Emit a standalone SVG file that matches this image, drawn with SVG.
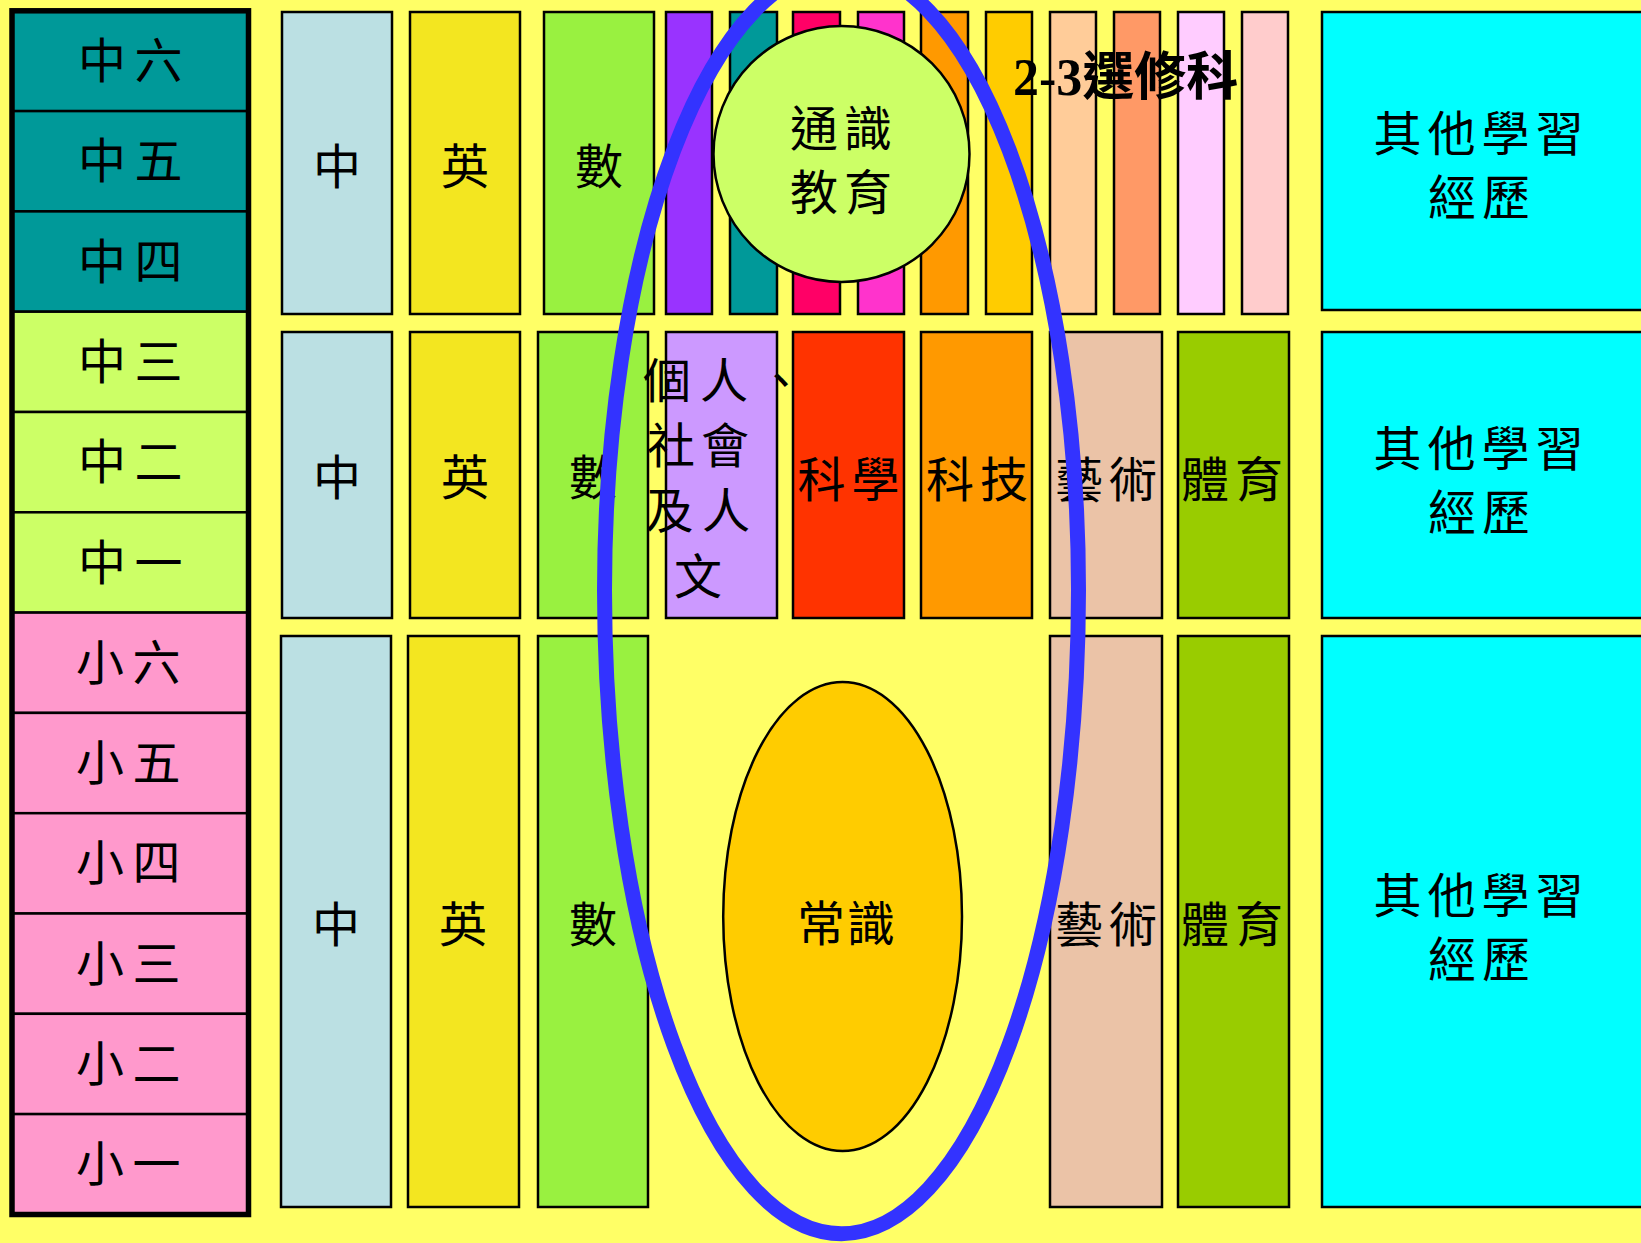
<svg xmlns="http://www.w3.org/2000/svg" width="1641" height="1243" viewBox="0 0 1641 1243">
<style>
.b{stroke:#000;stroke-width:2.5}
.t{font-family:"Noto Sans CJK TC","Noto Sans CJK SC",sans-serif;font-size:48px;fill:#000}
.m{text-anchor:middle}
.s6{letter-spacing:6px}
.s8{letter-spacing:8.5px}
.row{stroke:#000;stroke-width:2.5}
</style>
<rect x="0" y="0" width="1641" height="1243" fill="#FFFF66"/>
<g id="grades">
<rect class="row" x="12" y="10.8" width="236.5" height="100.3" fill="#009999"/>
<rect class="row" x="12" y="111.1" width="236.5" height="100.3" fill="#009999"/>
<rect class="row" x="12" y="211.4" width="236.5" height="100.3" fill="#009999"/>
<rect class="row" x="12" y="311.7" width="236.5" height="100.3" fill="#CCFF66"/>
<rect class="row" x="12" y="412" width="236.5" height="100.3" fill="#CCFF66"/>
<rect class="row" x="12" y="512.3" width="236.5" height="100.3" fill="#CCFF66"/>
<rect class="row" x="12" y="612.6" width="236.5" height="100.3" fill="#FF99CC"/>
<rect class="row" x="12" y="712.9" width="236.5" height="100.3" fill="#FF99CC"/>
<rect class="row" x="12" y="813.2" width="236.5" height="100.3" fill="#FF99CC"/>
<rect class="row" x="12" y="913.5" width="236.5" height="100.3" fill="#FF99CC"/>
<rect class="row" x="12" y="1013.8" width="236.5" height="100.3" fill="#FF99CC"/>
<rect class="row" x="12" y="1114.1" width="236.5" height="100.4" fill="#FF99CC"/>
<rect x="12" y="10.8" width="236.5" height="1203.7" fill="none" stroke="#000" stroke-width="5.5"/>
<text class="t s8" x="78" y="78">中六</text>
<text class="t s8" x="78" y="178">中五</text>
<text class="t s8" x="78" y="278.5">中四</text>
<text class="t s8" x="78" y="379">中三</text>
<text class="t s8" x="78" y="479">中二</text>
<text class="t s8" x="78" y="579.5">中一</text>
<text class="t s8" x="76" y="680">小六</text>
<text class="t s8" x="76" y="780">小五</text>
<text class="t s8" x="76" y="880">小四</text>
<text class="t s8" x="76" y="980.5">小三</text>
<text class="t s8" x="76" y="1081">小二</text>
<text class="t s8" x="76" y="1181">小一</text>
</g>
<g id="senior">
<rect class="b" x="282" y="12" width="110" height="302" fill="#BBE0E3"/>
<rect class="b" x="410" y="12" width="110" height="302" fill="#F3E620"/>
<rect class="b" x="544" y="12" width="110" height="302" fill="#99F140"/>
<rect class="b" x="666" y="12" width="46" height="302" fill="#9933FF"/>
<rect class="b" x="730" y="12" width="47" height="302" fill="#009999"/>
<rect class="b" x="793" y="12" width="47" height="302" fill="#FF0066"/>
<rect class="b" x="858" y="12" width="46" height="302" fill="#FF33CC"/>
<rect class="b" x="921" y="12" width="47" height="302" fill="#FF9900"/>
<rect class="b" x="986" y="12" width="46" height="302" fill="#FFCC00"/>
<rect class="b" x="1050" y="12" width="46" height="302" fill="#FFCC99"/>
<rect class="b" x="1114" y="12" width="46" height="302" fill="#FF9966"/>
<rect class="b" x="1178" y="12" width="46" height="302" fill="#FFCCFF"/>
<rect class="b" x="1242" y="12" width="46" height="302" fill="#FFCCCC"/>
<rect class="b" x="1322" y="12" width="330" height="298" fill="#00FFFF"/>
<text class="t m" x="337" y="184">中</text>
<text class="t m" x="465" y="184">英</text>
<text class="t m" x="599" y="184">數</text>
<text x="1013" y="95" style="font-family:'Liberation Serif','Noto Sans CJK TC',serif;font-size:52px;font-weight:bold">2-3選修科</text>
<text class="t s6" x="1373.5" y="151">其他學習</text>
<text class="t s6" x="1428" y="215">經歷</text>
</g>
<g id="liberal-studies">
<circle cx="841.5" cy="154" r="128" fill="#CCFF66" class="b"/>
<text class="t s6" x="790" y="145.5">通識</text>
<text class="t s6" x="790" y="209.5">教育</text>
</g>
<g id="junior">
<rect class="b" x="282" y="332" width="110" height="286" fill="#BBE0E3"/>
<rect class="b" x="410" y="332" width="110" height="286" fill="#F3E620"/>
<rect class="b" x="538" y="332" width="110" height="286" fill="#99F140"/>
<rect class="b" x="666" y="332" width="111" height="286" fill="#CC99FF"/>
<rect class="b" x="793" y="332" width="111" height="286" fill="#FF3300"/>
<rect class="b" x="921" y="332" width="111" height="286" fill="#FF9900"/>
<rect class="b" x="1050" y="332" width="112" height="286" fill="#EBC3A7"/>
<rect class="b" x="1178" y="332" width="111" height="286" fill="#99CC00"/>
<rect class="b" x="1322" y="332" width="330" height="286" fill="#00FFFF"/>
<text class="t m" x="337" y="495">中</text>
<text class="t m" x="465" y="495">英</text>
<text class="t m" x="593" y="495">數</text>
<text class="t" x="643" y="398" style="letter-spacing:9px">個人、</text>
<text class="t s6" x="647" y="463">社會</text>
<text class="t s8" x="645.5" y="528">及人</text>
<text class="t" x="674" y="594">文</text>
<text class="t s6" x="797.5" y="497">科學</text>
<text class="t s6" x="926" y="497">科技</text>
<text class="t s6" x="1055" y="497">藝術</text>
<text class="t s6" x="1181" y="497">體育</text>
<text class="t s6" x="1373.5" y="465.5">其他學習</text>
<text class="t s6" x="1428" y="529.5">經歷</text>
</g>
<g id="primary">
<rect class="b" x="281" y="636" width="110" height="571" fill="#BBE0E3"/>
<rect class="b" x="408" y="636" width="111" height="571" fill="#F3E620"/>
<rect class="b" x="538" y="636" width="110" height="571" fill="#99F140"/>
<rect class="b" x="1050" y="636" width="112" height="571" fill="#EBC3A7"/>
<rect class="b" x="1178" y="636" width="111" height="571" fill="#99CC00"/>
<rect class="b" x="1322" y="636" width="330" height="571" fill="#00FFFF"/>
<text class="t m" x="336" y="942">中</text>
<text class="t m" x="463" y="942">英</text>
<text class="t m" x="593" y="942">數</text>
<text class="t s6" x="1055" y="942">藝術</text>
<text class="t s6" x="1181" y="942">體育</text>
<text class="t s6" x="1373.5" y="912.5">其他學習</text>
<text class="t s6" x="1428" y="976.5">經歷</text>
</g>
<g id="general-studies">
<ellipse cx="842.6" cy="916.5" rx="119.4" ry="234.5" fill="#FFCC00" class="b"/>
<text class="t" x="797" y="941" style="letter-spacing:2px">常識</text>
</g>
<g id="highlight">
<path d="M604.5 590 A237 623 0 0 1 1078.5 590 A237 644 0 0 1 604.5 590 Z" fill="none" stroke="#3333FF" stroke-width="15"/>
</g>
</svg>
